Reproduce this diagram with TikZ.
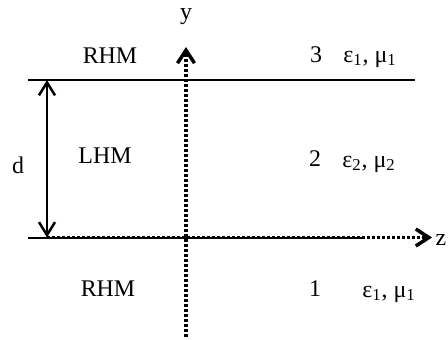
\documentclass[tikz,border=0pt]{standalone}
\usepackage{fontspec}
\setmainfont{Liberation Serif}
\usetikzlibrary{arrows.meta}

\begin{document}
\begin{tikzpicture}[
    x=0.02cm, y=-0.02cm,
    lbl/.style={anchor=base, inner sep=0pt, font=\fontsize{13.6}{16}\selectfont},
    layer/.style={line width=0.5mm},
    axis/.style={line width=0.7mm, dash pattern=on 0.6mm off 0.4mm, -{Straight Barb[length=2.6mm, width=3.4mm, line width=0.7mm]}},
    gap/.style={line width=0.5mm, {Straight Barb[length=2.6mm, width=3.2mm]}-{Straight Barb[length=2.6mm, width=3.2mm]}}
]
\useasboundingbox (0,0) rectangle (448,339);

% interfaces
\coordinate (topL) at (28,80);
\coordinate (topR) at (415,80);
\coordinate (botL) at (28,237.5);
\coordinate (botR) at (365,237.5);
\draw[layer] (topL) -- (topR);
\draw[layer, line width=0.4mm] (botL) -- (botR);

% axes
\coordinate (zfrom) at (47,237.5);
\coordinate (zto) at (432,237.5);
\coordinate (yfrom) at (186,337);
\coordinate (yto) at (186,47);
\draw[axis] (zfrom) -- (zto);
\draw[axis] (yfrom) -- (yto);
\node[lbl] (ylab) at (186,19) {y};
\node[lbl] (zlab) at (441,245) {z};

% thickness
\coordinate (dtop) at (47,80);
\coordinate (dbot) at (47,237.5);
\draw[gap] (dtop) -- (dbot);
\node[lbl] (dlab) at (18,173) {d};

% media
\node[lbl] (rhm3) at (110,63) {RHM};
\node[lbl] (lhm2) at (105,163) {LHM};
\node[lbl] (rhm1) at (108,296) {RHM};
\node[lbl] (n3) at (316,62) {3};
\node[lbl] (n2) at (315,166) {2};
\node[lbl] (n1) at (315,296) {1};
\node[lbl, anchor=base west] (par3) at (343,62) {ε\textsubscript{1}, μ\textsubscript{1}};
\node[lbl, anchor=base west] (par2) at (342,167) {ε\textsubscript{2}, μ\textsubscript{2}};
\node[lbl, anchor=base west] (par1) at (362,297) {ε\textsubscript{1}, μ\textsubscript{1}};
\end{tikzpicture}
\end{document}
